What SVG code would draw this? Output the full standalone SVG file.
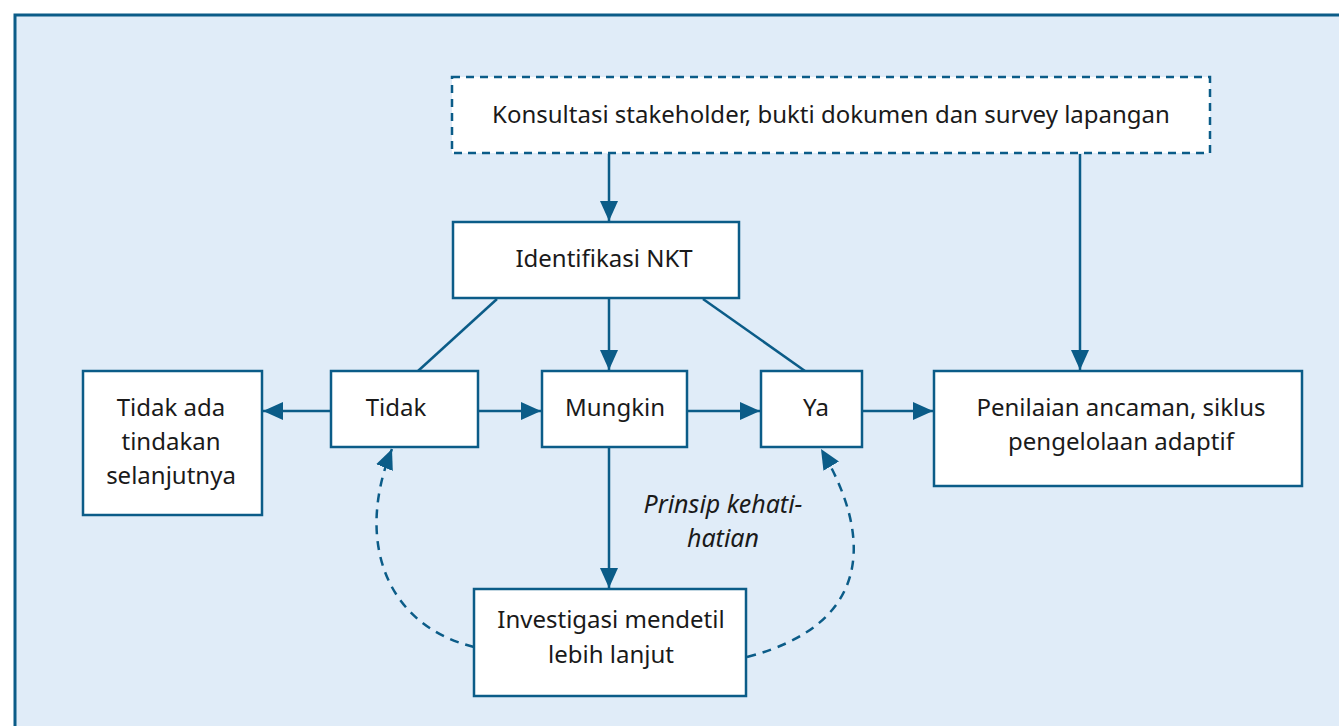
<svg xmlns="http://www.w3.org/2000/svg" width="1339" height="726" viewBox="0 0 1339 726">
<defs>
<marker id="ah" viewBox="0 0 20 18" refX="20" refY="9" markerWidth="20" markerHeight="18" markerUnits="userSpaceOnUse" orient="auto">
<path d="M0,0 L20,9 L0,18 Z" fill="#0b5c88"/>
</marker>
<style>
.box{fill:#ffffff;stroke:#0b5c88;stroke-width:2.5}
.dbox{fill:#ffffff;stroke:#0b5c88;stroke-width:2.5;stroke-dasharray:8 6}
.t{font-family:"Noto Sans","Open Sans",sans-serif;font-size:24px;fill:#1a1a1a;text-anchor:middle}
.ti{font-family:"Noto Sans","Open Sans",sans-serif;font-size:25px;fill:#1a1a1a;text-anchor:middle;font-style:italic}
.c{fill:none;stroke:#0b5c88;stroke-width:2.5}
.cd{fill:none;stroke:#0b5c88;stroke-width:2.5;stroke-dasharray:9 7}
</style>
</defs>
<rect x="15" y="15" width="1340" height="720" fill="#e0ecf8" stroke="#0b5c88" stroke-width="3"/>
<g id="connectors">
<line class="c" x1="609" y1="154" x2="609" y2="221" marker-end="url(#ah)"/>
<line class="c" x1="1080" y1="154" x2="1080" y2="370" marker-end="url(#ah)"/>
<line class="c" x1="497" y1="299" x2="418" y2="371"/>
<line class="c" x1="703" y1="299" x2="805" y2="371"/>
<line class="c" x1="609" y1="298" x2="609" y2="370" marker-end="url(#ah)"/>
<line class="c" x1="331" y1="411" x2="263" y2="411" marker-end="url(#ah)"/>
<line class="c" x1="478" y1="411" x2="541" y2="411" marker-end="url(#ah)"/>
<line class="c" x1="687" y1="411" x2="760" y2="411" marker-end="url(#ah)"/>
<line class="c" x1="862" y1="411" x2="933" y2="411" marker-end="url(#ah)"/>
<line class="c" x1="609" y1="447" x2="609" y2="588" marker-end="url(#ah)"/>
<path class="cd" d="M474,647 C385,625 355,540 392,449" marker-end="url(#ah)"/>
<path class="cd" d="M747,657 C870,625 875,540 821,449" marker-end="url(#ah)"/>
<text class="ti" x="723" y="513">Prinsip kehati-</text>
<text class="ti" x="723" y="547">hatian</text>
</g>
<g id="konsultasi">
<rect class="dbox" x="452" y="77" width="758" height="76"/>
<text class="t" x="831" y="123">Konsultasi stakeholder, bukti dokumen dan survey lapangan</text>
</g>
<g id="identifikasi">
<rect class="box" x="453" y="222" width="286" height="76"/>
<text class="t" x="604" y="267">Identifikasi NKT</text>
</g>
<g id="tidak-ada">
<rect class="box" x="83" y="371" width="179" height="144"/>
<text class="t" x="171" y="416">Tidak ada</text>
<text class="t" x="171" y="450">tindakan</text>
<text class="t" x="171" y="484">selanjutnya</text>
</g>
<g id="tidak">
<rect class="box" x="331" y="371" width="147" height="76"/>
<text class="t" x="396" y="416">Tidak</text>
</g>
<g id="mungkin">
<rect class="box" x="542" y="371" width="145" height="76"/>
<text class="t" x="615" y="416">Mungkin</text>
</g>
<g id="ya">
<rect class="box" x="761" y="371" width="101" height="76"/>
<text class="t" x="816" y="416">Ya</text>
</g>
<g id="penilaian">
<rect class="box" x="934" y="371" width="368" height="115"/>
<text class="t" x="1121" y="416">Penilaian ancaman, siklus</text>
<text class="t" x="1121" y="450">pengelolaan adaptif</text>
</g>
<g id="investigasi">
<rect class="box" x="474" y="589" width="272" height="107"/>
<text class="t" x="611" y="628">Investigasi mendetil</text>
<text class="t" x="611" y="663">lebih lanjut</text>
</g>
</svg>
